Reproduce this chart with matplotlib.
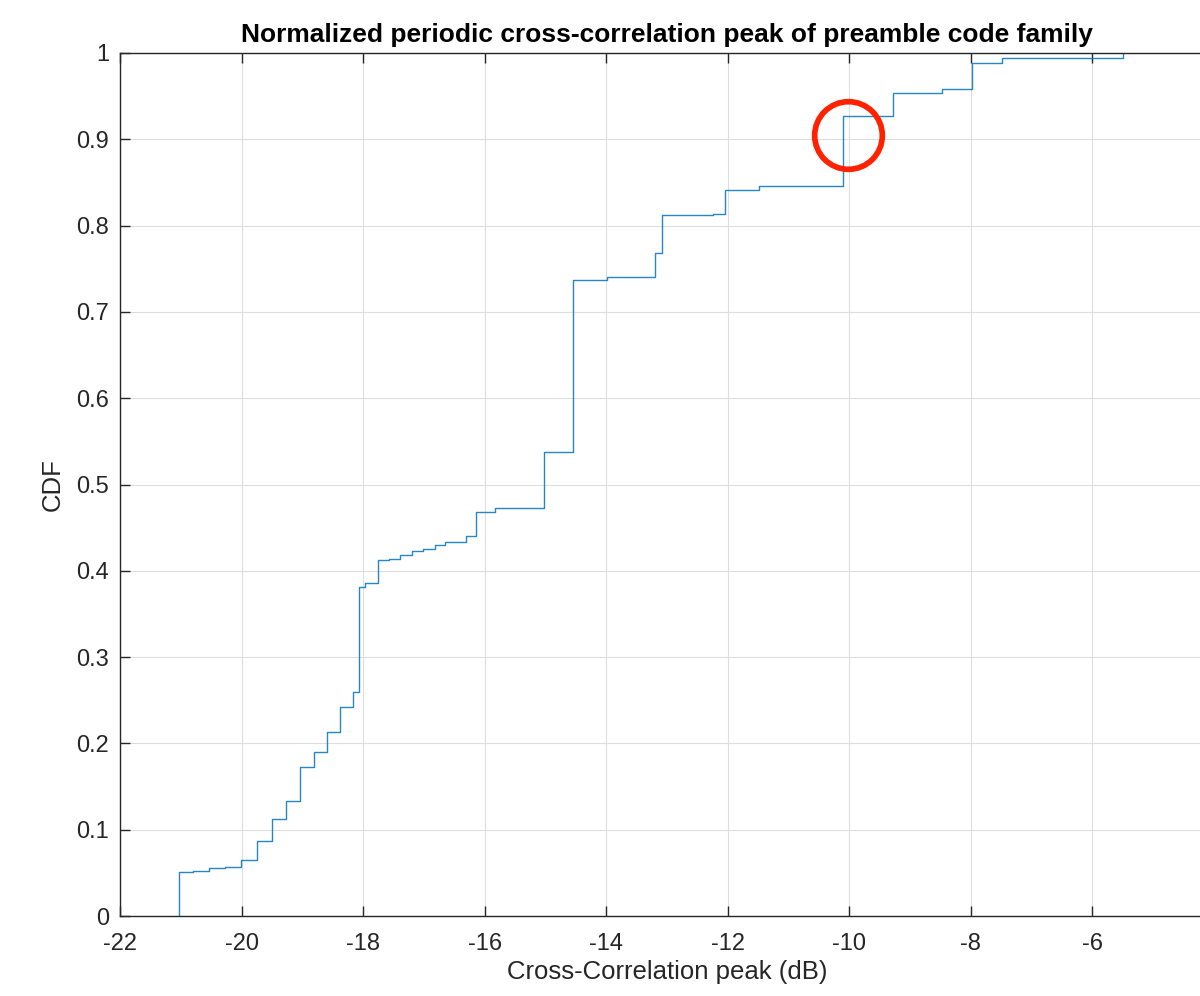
import matplotlib
matplotlib.use("Agg")
import matplotlib.pyplot as plt
import numpy as np

plt.rcParams['font.family'] = ['Liberation Sans', 'DejaVu Sans']
plt.rcParams['axes.unicode_minus'] = False

# Empirical CDF: jump locations (dB) and CDF value after each jump
jump_x = [-21.03, -20.80, -20.54, -20.27, -20.01, -19.75, -19.50, -19.27,
          -19.04, -18.81, -18.59, -18.38, -18.17, -18.07, -17.97, -17.76,
          -17.57, -17.39, -17.20, -17.01, -16.82, -16.65, -16.31, -16.14,
          -15.83, -15.03, -14.54, -13.99, -13.19, -13.08, -12.24, -12.04,
          -11.49, -10.10, -9.28, -8.47, -7.98, -7.49, -5.49]
cdf_y = [0.0506, 0.0518, 0.0553, 0.0568, 0.0645, 0.0873, 0.112, 0.1336,
         0.1727, 0.1897, 0.2128, 0.2422, 0.260, 0.381, 0.386, 0.412,
         0.414, 0.418, 0.423, 0.425, 0.430, 0.433, 0.440, 0.4685,
         0.473, 0.5377, 0.7366, 0.740, 0.768, 0.812, 0.8134, 0.8413,
         0.8455, 0.9274, 0.9533, 0.9587, 0.988, 0.9945, 1.0]

# highlighted point (red circle annotation)
highlight_x = [-10.02]
highlight_y = [0.9053]

x_ticks = [-22, -20, -18, -16, -14, -12, -10, -8, -6, -4]
y_ticks = [0, 0.1, 0.2, 0.3, 0.4, 0.5, 0.6, 0.7, 0.8, 0.9, 1]
y_tick_labels = ['0', '0.1', '0.2', '0.3', '0.4', '0.5', '0.6', '0.7', '0.8', '0.9', '1']

title = 'Normalized periodic cross-correlation peak of preamble code family'
xlabel = 'Cross-Correlation peak (dB)'
ylabel = 'CDF'

fig = plt.figure(figsize=(12, 9.96), dpi=100)
ax = fig.add_axes([0.1, 0.0803, 0.9117, 0.8665])

xs = [jump_x[0]] + jump_x
ys = [0.0] + cdf_y
ax.step(xs, ys, where='post', color='#0072BD', linewidth=1.0, alpha=0.85)

ax.plot(highlight_x, highlight_y, 'o', markersize=48.7, markerfacecolor='none',
        markeredgecolor='#ff2200', markeredgewidth=4.1, clip_on=False, zorder=5)

ax.set_xlim(-22, -4)
ax.set_ylim(0, 1)
ax.set_xticks(x_ticks)
ax.set_yticks(y_ticks)
ax.set_yticklabels(y_tick_labels)

ax.grid(True, color='#dedede', linewidth=0.8)
ax.set_axisbelow(True)

for s in ax.spines.values():
    s.set_color('#262626')
    s.set_linewidth(1.0)

ax.tick_params(direction='in', length=7, width=1.0, colors='#262626',
               labelsize=17, top=True, right=True)
ax.tick_params(axis='x', pad=12)
ax.tick_params(axis='y', pad=8)

ax.set_title(title, fontsize=19, fontweight='bold', pad=8)
ax.set_xlabel(xlabel, fontsize=18.5, color='#262626', labelpad=4)
ax.set_ylabel(ylabel, fontsize=18.5, color='#262626', labelpad=8)

fig.savefig('out.png', dpi=100)
